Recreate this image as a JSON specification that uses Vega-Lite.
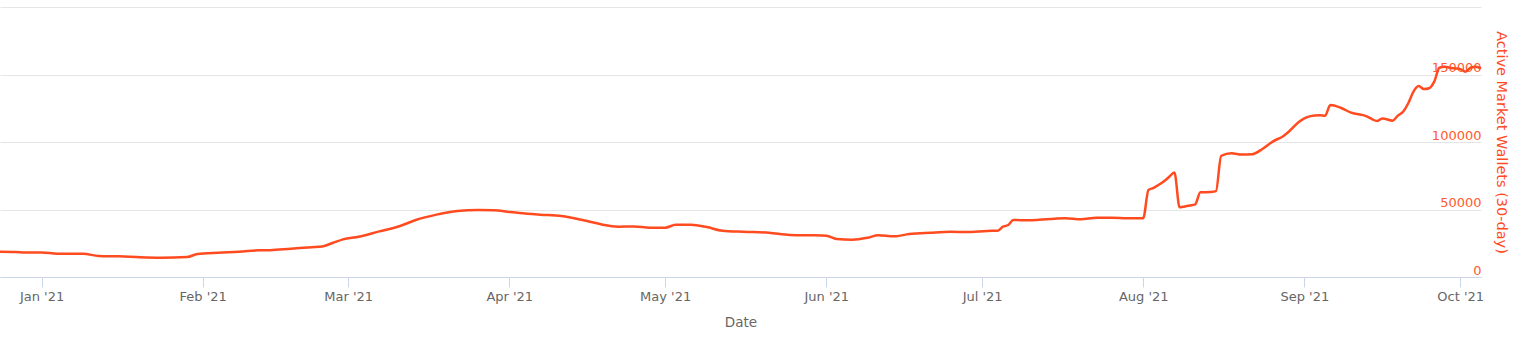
{
  "$schema": "https://vega.github.io/schema/vega-lite/v6.json",
  "width": 1481,
  "height": 270,
  "autosize": "none",
  "padding": {"left": 0, "top": 7, "right": 40, "bottom": 60},
  "background": "white",
  "config": {"view": {"stroke": null}, "font": "DejaVu Sans"},
  "data": {"values": [
    {"date": "2020-12-24", "wallets": 18700},
    {"date": "2020-12-27", "wallets": 18500},
    {"date": "2020-12-29", "wallets": 18100},
    {"date": "2021-01-01", "wallets": 18200},
    {"date": "2021-01-04", "wallets": 17300},
    {"date": "2021-01-09", "wallets": 17200},
    {"date": "2021-01-12", "wallets": 15600},
    {"date": "2021-01-16", "wallets": 15300},
    {"date": "2021-01-20", "wallets": 14600},
    {"date": "2021-01-24", "wallets": 14300},
    {"date": "2021-01-29", "wallets": 14800},
    {"date": "2021-01-31", "wallets": 17000},
    {"date": "2021-02-04", "wallets": 18000},
    {"date": "2021-02-08", "wallets": 18700},
    {"date": "2021-02-12", "wallets": 19800},
    {"date": "2021-02-14", "wallets": 19900},
    {"date": "2021-02-18", "wallets": 21000},
    {"date": "2021-02-22", "wallets": 22000},
    {"date": "2021-02-24", "wallets": 22600},
    {"date": "2021-02-26", "wallets": 25200},
    {"date": "2021-02-28", "wallets": 27900},
    {"date": "2021-03-03", "wallets": 29800},
    {"date": "2021-03-07", "wallets": 33800},
    {"date": "2021-03-11", "wallets": 37800},
    {"date": "2021-03-14", "wallets": 42200},
    {"date": "2021-03-18", "wallets": 46200},
    {"date": "2021-03-22", "wallets": 48900},
    {"date": "2021-03-26", "wallets": 49600},
    {"date": "2021-03-29", "wallets": 49400},
    {"date": "2021-04-01", "wallets": 48200},
    {"date": "2021-04-03", "wallets": 47400},
    {"date": "2021-04-07", "wallets": 46200},
    {"date": "2021-04-11", "wallets": 45200},
    {"date": "2021-04-13", "wallets": 43900},
    {"date": "2021-04-16", "wallets": 41500},
    {"date": "2021-04-19", "wallets": 38700},
    {"date": "2021-04-22", "wallets": 37300},
    {"date": "2021-04-25", "wallets": 37500},
    {"date": "2021-04-28", "wallets": 36500},
    {"date": "2021-05-01", "wallets": 36500},
    {"date": "2021-05-03", "wallets": 38700},
    {"date": "2021-05-06", "wallets": 38700},
    {"date": "2021-05-09", "wallets": 37000},
    {"date": "2021-05-12", "wallets": 34300},
    {"date": "2021-05-16", "wallets": 33500},
    {"date": "2021-05-21", "wallets": 32800},
    {"date": "2021-05-25", "wallets": 31100},
    {"date": "2021-05-29", "wallets": 30900},
    {"date": "2021-06-01", "wallets": 30600},
    {"date": "2021-06-03", "wallets": 28200},
    {"date": "2021-06-06", "wallets": 27600},
    {"date": "2021-06-09", "wallets": 29100},
    {"date": "2021-06-11", "wallets": 30900},
    {"date": "2021-06-14", "wallets": 30100},
    {"date": "2021-06-17", "wallets": 31800},
    {"date": "2021-06-21", "wallets": 32800},
    {"date": "2021-06-25", "wallets": 33500},
    {"date": "2021-06-28", "wallets": 33300},
    {"date": "2021-07-02", "wallets": 34100},
    {"date": "2021-07-04", "wallets": 34300},
    {"date": "2021-07-05", "wallets": 37300},
    {"date": "2021-07-06", "wallets": 38500},
    {"date": "2021-07-07", "wallets": 42200},
    {"date": "2021-07-10", "wallets": 42000},
    {"date": "2021-07-12", "wallets": 42400},
    {"date": "2021-07-15", "wallets": 43200},
    {"date": "2021-07-17", "wallets": 43500},
    {"date": "2021-07-20", "wallets": 42700},
    {"date": "2021-07-23", "wallets": 43900},
    {"date": "2021-07-26", "wallets": 43900},
    {"date": "2021-07-29", "wallets": 43500},
    {"date": "2021-08-01", "wallets": 43600},
    {"date": "2021-08-02", "wallets": 64500},
    {"date": "2021-08-03", "wallets": 66000},
    {"date": "2021-08-04", "wallets": 68300},
    {"date": "2021-08-05", "wallets": 71000},
    {"date": "2021-08-06", "wallets": 74200},
    {"date": "2021-08-07", "wallets": 77500},
    {"date": "2021-08-08", "wallets": 51600},
    {"date": "2021-08-09", "wallets": 52300},
    {"date": "2021-08-10", "wallets": 52900},
    {"date": "2021-08-11", "wallets": 53800},
    {"date": "2021-08-12", "wallets": 62700},
    {"date": "2021-08-14", "wallets": 63000},
    {"date": "2021-08-15", "wallets": 63600},
    {"date": "2021-08-16", "wallets": 89800},
    {"date": "2021-08-18", "wallets": 91600},
    {"date": "2021-08-20", "wallets": 90700},
    {"date": "2021-08-22", "wallets": 91000},
    {"date": "2021-08-24", "wallets": 95000},
    {"date": "2021-08-26", "wallets": 100500},
    {"date": "2021-08-28", "wallets": 104500},
    {"date": "2021-08-29", "wallets": 107600},
    {"date": "2021-08-31", "wallets": 115000},
    {"date": "2021-09-01", "wallets": 117500},
    {"date": "2021-09-02", "wallets": 119000},
    {"date": "2021-09-04", "wallets": 119800},
    {"date": "2021-09-05", "wallets": 119500},
    {"date": "2021-09-06", "wallets": 127400},
    {"date": "2021-09-08", "wallets": 125400},
    {"date": "2021-09-10", "wallets": 121700},
    {"date": "2021-09-13", "wallets": 119000},
    {"date": "2021-09-14", "wallets": 117000},
    {"date": "2021-09-15", "wallets": 115500},
    {"date": "2021-09-16", "wallets": 117500},
    {"date": "2021-09-18", "wallets": 115800},
    {"date": "2021-09-19", "wallets": 119500},
    {"date": "2021-09-20", "wallets": 122400},
    {"date": "2021-09-21", "wallets": 128700},
    {"date": "2021-09-22", "wallets": 137300},
    {"date": "2021-09-23", "wallets": 141500},
    {"date": "2021-09-24", "wallets": 139200},
    {"date": "2021-09-25", "wallets": 139800},
    {"date": "2021-09-26", "wallets": 144700},
    {"date": "2021-09-27", "wallets": 155000},
    {"date": "2021-09-28", "wallets": 155800},
    {"date": "2021-09-29", "wallets": 155000},
    {"date": "2021-09-30", "wallets": 154500},
    {"date": "2021-10-01", "wallets": 154000},
    {"date": "2021-10-02", "wallets": 152100},
    {"date": "2021-10-03", "wallets": 155000},
    {"date": "2021-10-04", "wallets": 155800},
    {"date": "2021-10-05", "wallets": 154600}
  ]},
  "mark": {"type": "line", "color": "#ff4b1f", "strokeWidth": 2.5, "interpolate": "monotone"},
  "encoding": {
    "x": {
      "field": "date",
      "type": "temporal",
      "title": "Date",
      "scale": {
        "type": "utc",
        "nice": false,
        "domain": [
          {"year": 2020, "month": 12, "date": 24, "utc": true},
          {"year": 2021, "month": 10, "date": 5, "utc": true}
        ]
      },
      "axis": {
        "tickCount": {"interval": "month", "step": 1},
        "format": "%b '%y",
        "grid": false,
        "domainColor": "#ccd6eb",
        "domainWidth": 1,
        "tickColor": "#ccd6eb",
        "tickSize": 10,
        "labelPadding": 3,
        "labelFontSize": 13,
        "labelColor": "#666666",
        "labelFont": "DejaVu Sans",
        "titleFont": "DejaVu Sans",
        "titleFontSize": 13.5,
        "titleFontWeight": "normal",
        "titleColor": "#666666",
        "titlePadding": 12
      }
    },
    "y": {
      "field": "wallets",
      "type": "quantitative",
      "title": "Active Market Wallets (30-day)",
      "scale": {"domain": [0, 200000], "nice": false},
      "axis": {
        "orient": "right",
        "values": [0, 50000, 100000, 150000, 200000],
        "labelExpr": "datum.value >= 200000 ? '' : format(datum.value, 'd')",
        "domain": false,
        "ticks": false,
        "grid": true,
        "gridColor": "#e6e6e6",
        "gridWidth": 1,
        "labelAlign": "right",
        "labelBaseline": "alphabetic",
        "labelOffset": -3,
        "labelPadding": 0,
        "labelFontSize": 13,
        "labelColor": "#ff5a30",
        "labelFont": "DejaVu Sans",
        "titleFont": "DejaVu Sans",
        "titleFontSize": 14.5,
        "titleFontWeight": "normal",
        "titleColor": "#ff4b1f",
        "titleAngle": 90,
        "titleAlign": "center",
        "titleBaseline": "middle",
        "titleX": 19,
        "titleY": 135
      }
    }
  }
}
